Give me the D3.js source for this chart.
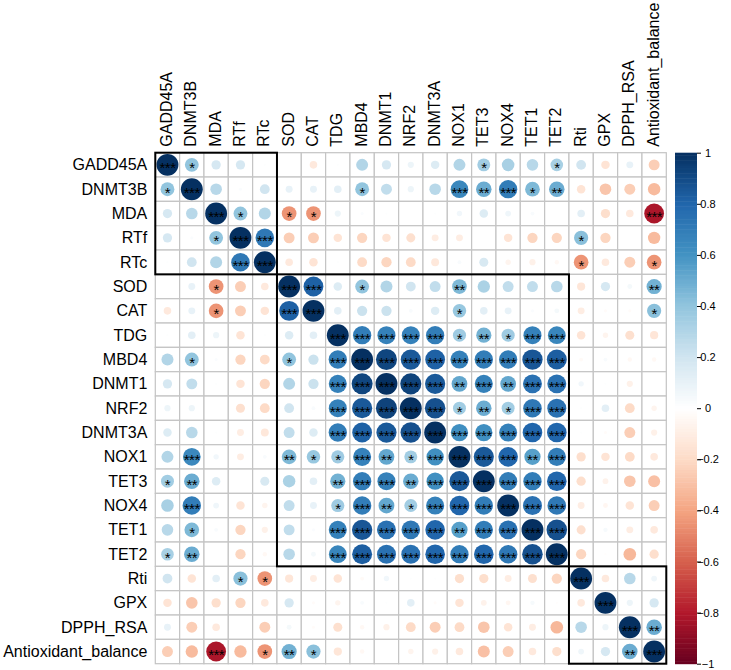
<!DOCTYPE html>
<html>
<head>
<meta charset="utf-8">
<script src="https://cdn.jsdelivr.net/npm/d3@7"></script>
<style>
  body { margin: 0; background: #fff; }
  text { font-family: "Liberation Sans", Arial, sans-serif; }
</style>
</head>
<body>
<div id="chart"></div>
<script>
// variable order (hclust order of the corrplot)
const variables = ['GADD45A', 'DNMT3B', 'MDA', 'RTf', 'RTc', 'SOD', 'CAT', 'TDG', 'MBD4',
  'DNMT1', 'NRF2', 'DNMT3A', 'NOX1', 'TET3', 'NOX4', 'TET1', 'TET2', 'Rti', 'GPX',
  'DPPH_RSA', 'Antioxidant_balance']

// upper triangle of the correlation matrix, row i holds columns i+1 .. end
const corrUpper = [
  [0.40, 0.18, 0.18, 0.01, 0.00, -0.12, 0.01, 0.30, 0.18, 0.08, 0.15, 0.30, 0.35, 0.33, 0.28, 0.33, 0.20, -0.15, 0.10, -0.25],
  [0.28, 0.02, 0.20, 0.10, 0.10, 0.12, 0.40, 0.25, 0.08, 0.28, 0.65, 0.50, 0.70, 0.45, 0.50, -0.15, -0.28, -0.25, -0.32],
  [0.40, 0.30, -0.45, -0.45, 0.08, 0.02, 0.01, 0.00, 0.01, 0.06, 0.15, 0.07, 0.03, 0.00, 0.12, -0.18, -0.12, -0.82],
  [0.72, -0.25, -0.25, -0.15, -0.22, -0.15, -0.17, -0.10, -0.10, 0.00, -0.15, -0.22, -0.22, 0.42, -0.22, 0.00, -0.32],
  [-0.12, -0.15, 0.01, -0.20, -0.22, -0.20, -0.13, 0.03, 0.17, -0.06, -0.08, -0.04, -0.45, -0.12, -0.25, -0.45],
  [0.82, 0.15, 0.40, 0.30, 0.20, 0.25, 0.45, 0.32, 0.25, 0.25, 0.28, -0.14, 0.18, 0.05, 0.48],
  [0.12, 0.22, 0.22, 0.03, 0.15, 0.38, 0.12, 0.10, 0.02, 0.05, -0.10, -0.02, -0.02, 0.42],
  [0.70, 0.68, 0.68, 0.70, 0.36, 0.48, 0.36, 0.68, 0.66, -0.15, -0.06, -0.17, -0.14],
  [0.92, 0.85, 0.82, 0.68, 0.70, 0.70, 0.86, 0.83, -0.03, 0.03, -0.04, -0.04],
  [0.93, 0.85, 0.52, 0.68, 0.52, 0.75, 0.75, 0.06, 0.01, -0.08, 0.00],
  [0.88, 0.35, 0.50, 0.35, 0.72, 0.75, 0.01, 0.12, -0.20, -0.06],
  [0.62, 0.62, 0.68, 0.80, 0.80, 0.01, -0.02, -0.25, -0.08],
  [0.85, 0.80, 0.55, 0.70, -0.18, -0.15, -0.20, -0.12],
  [0.70, 0.70, 0.80, -0.18, -0.07, -0.28, -0.30],
  [0.75, 0.72, -0.10, -0.05, -0.15, -0.25],
  [0.88, -0.17, 0.04, -0.10, -0.12],
  [-0.22, -0.01, -0.33, -0.18],
  [-0.12, 0.28, 0.07],
  [0.08, 0.18],
  [0.50]
]

// significance stars (0 = none, 1 = *, 2 = **, 3 = ***), same layout as corrUpper
const sigUpper = [
  [1, 0, 0, 0, 0, 0, 0, 0, 0, 0, 0, 0, 1, 0, 0, 1, 0, 0, 0, 0],
  [0, 0, 0, 0, 0, 0, 1, 0, 0, 0, 3, 2, 3, 1, 2, 0, 0, 0, 0],
  [1, 0, 1, 1, 0, 0, 0, 0, 0, 0, 0, 0, 0, 0, 0, 0, 0, 3],
  [3, 0, 0, 0, 0, 0, 0, 0, 0, 0, 0, 0, 0, 1, 0, 0, 0],
  [0, 0, 0, 0, 0, 0, 0, 0, 0, 0, 0, 0, 1, 0, 0, 1],
  [3, 0, 1, 0, 0, 0, 2, 0, 0, 0, 0, 0, 0, 0, 2],
  [0, 0, 0, 0, 0, 1, 0, 0, 0, 0, 0, 0, 0, 1],
  [3, 3, 3, 3, 1, 2, 1, 3, 3, 0, 0, 0, 0],
  [3, 3, 3, 3, 3, 3, 3, 3, 0, 0, 0, 0],
  [3, 3, 2, 3, 2, 3, 3, 0, 0, 0, 0],
  [3, 1, 2, 1, 3, 3, 0, 0, 0, 0],
  [3, 3, 3, 3, 3, 0, 0, 0, 0],
  [3, 3, 2, 3, 0, 0, 0, 0],
  [3, 3, 3, 0, 0, 0, 0],
  [3, 3, 0, 0, 0, 0],
  [3, 0, 0, 0, 0],
  [0, 0, 0, 0],
  [0, 0, 0],
  [0, 0],
  [2]
]

// hierarchical clusters marked with rectangles (first and last member)
const clusters = [['GADD45A', 'RTc'], ['SOD', 'TET2'], ['Rti', 'Antioxidant_balance']]

// RdBu palette (corrplot COL2) and legend ticks
const paletteStops = [-1, -0.8, -0.6, -0.4, -0.2, 0, 0.2, 0.4, 0.6, 0.8, 1]
const paletteColors = ['#67001F', '#B2182B', '#D6604D', '#F4A582', '#FDDBC7', '#FFFFFF',
  '#D1E5F0', '#92C5DE', '#4393C3', '#2166AC', '#053061']
const legendTicks = [-1, -0.8, -0.6, -0.4, -0.2, 0, 0.2, 0.4, 0.6, 0.8, 1]

const width = 731
const height = 670
const gridLeft = 155.3, gridTop = 152.7, gridSize = 511

const svg = d3.select('#chart').append('svg')
  .attr('width', width)
  .attr('height', height)

const x = d3.scaleBand().domain(variables).range([gridLeft, gridLeft + gridSize])
const y = d3.scaleBand().domain(variables).range([gridTop, gridTop + gridSize])
const bw = x.bandwidth()
const color = d3.scaleLinear().domain(paletteStops).range(paletteColors)
  .interpolate(d3.interpolateRgb)

// build the full symmetric matrix
const cells = []
variables.forEach((rv, i) => {
  variables.forEach((cv, j) => {
    let r, s
    if (i === j) { r = 1; s = 3 }
    else if (i < j) { r = corrUpper[i][j - i - 1]; s = sigUpper[i][j - i - 1] }
    else { r = corrUpper[j][i - j - 1]; s = sigUpper[j][i - j - 1] }
    cells.push({ row: rv, col: cv, r: r, s: s })
  })
})

// grid
svg.append('g').selectAll('rect').data(cells).enter().append('rect')
  .attr('x', d => x(d.col))
  .attr('y', d => y(d.row))
  .attr('width', bw)
  .attr('height', bw)
  .attr('fill', '#fff')
  .attr('stroke', '#c4c4c4')
  .attr('stroke-width', 1.2)

// circles, area ~ |r|
svg.append('g').selectAll('circle').data(cells).enter().append('circle')
  .attr('cx', d => x(d.col) + bw / 2)
  .attr('cy', d => y(d.row) + bw / 2)
  .attr('r', d => 0.9 * Math.sqrt(Math.abs(d.r)) / 2 * bw)
  .attr('fill', d => color(d.r))

// significance stars
const starSize = 15
svg.append('g').selectAll('text').data(cells.filter(d => d.s > 0)).enter().append('text')
  .attr('x', d => x(d.col) + bw / 2)
  .attr('y', d => y(d.row) + bw / 2 + starSize * 0.56)
  .attr('text-anchor', 'middle')
  .style('font-size', starSize + 'px')
  .style('letter-spacing', '-0.5px')
  .attr('fill', '#000')
  .text(d => '*'.repeat(d.s))

// cluster rectangles
svg.append('g').selectAll('rect').data(clusters).enter().append('rect')
  .attr('x', d => x(d[0]))
  .attr('y', d => y(d[0]))
  .attr('width', d => x(d[1]) + bw - x(d[0]))
  .attr('height', d => y(d[1]) + bw - y(d[0]))
  .attr('fill', 'none')
  .attr('stroke', '#000')
  .attr('stroke-width', 2)

// row labels
svg.append('g').selectAll('text').data(variables).enter().append('text')
  .attr('x', gridLeft - 8)
  .attr('y', d => y(d) + bw / 2)
  .attr('dy', '0.35em')
  .attr('text-anchor', 'end')
  .style('font-size', '16px')
  .text(d => d)

// column labels (rotated)
svg.append('g').selectAll('text').data(variables).enter().append('text')
  .attr('transform', d => `translate(${x(d) + bw / 2 - 1},${gridTop - 6}) rotate(-90)`)
  .attr('dy', '0.35em')
  .attr('text-anchor', 'start')
  .style('font-size', '16px')
  .text(d => d)

// color legend
const legendX = 675, legendW = 22
const ly = d3.scaleLinear().domain([-1, 1]).range([gridTop + gridSize, gridTop])
const steps = d3.range(200).map(k => -1 + (k + 0.5) * 2 / 200)
svg.append('g').selectAll('rect').data(steps).enter().append('rect')
  .attr('x', legendX)
  .attr('y', d => ly(d + 1 / 200))
  .attr('width', legendW)
  .attr('height', ly(-1) - ly(-1 + 2 / 200) + 0.5)
  .attr('fill', d => color(d))

const axis = svg.append('g')
  .attr('transform', `translate(${legendX + legendW},0)`)
  .call(d3.axisRight(ly).tickValues(legendTicks).tickSize(4).tickFormat(d3.format('~g')))
axis.select('.domain').remove()
axis.selectAll('.tick line').attr('stroke', '#000')
axis.selectAll('.tick text')
  .attr('x', 11)
  .attr('text-anchor', 'middle')
  .style('font-family', '"Liberation Sans", Arial, sans-serif')
  .style('font-size', '11px')
  .attr('fill', '#000')
</script>
</body>
</html>
